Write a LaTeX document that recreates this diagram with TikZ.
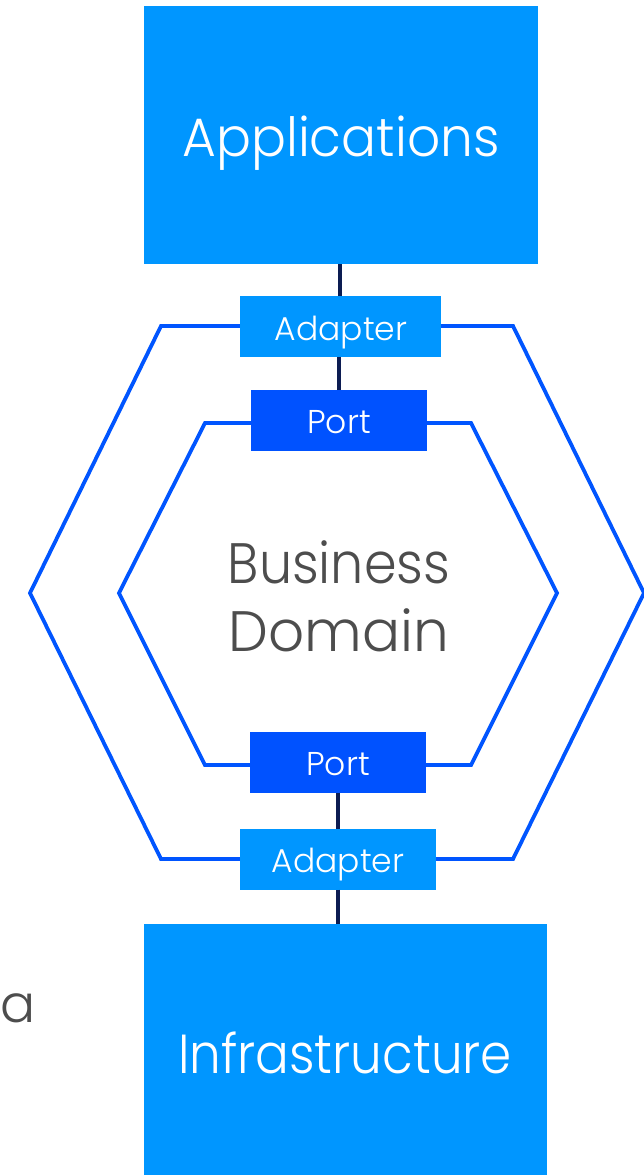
\documentclass[tikz,border=0pt]{standalone}
\usepackage{fontspec}
\setmainfont{Poppins Light}
\begin{document}
\begin{tikzpicture}[x=1pt,y=-1pt,
  every node/.style={inner sep=0pt,outer sep=0pt},
  bigbox/.style={fill=appblue,draw=none},
  adapterbox/.style={fill=appblue,draw=none,minimum width=201pt,minimum height=61pt},
  portbox/.style={fill=portblue,draw=none,minimum width=176pt,minimum height=61pt},
  hexline/.style={draw=hexblue,line width=3.8pt,line join=miter},
  link/.style={draw=navy,line width=3.6pt},
  boxtext/.style={text=white,anchor=base},
  domtext/.style={text=domgray,anchor=base}]
\definecolor{appblue}{RGB}{0,150,255}
\definecolor{portblue}{RGB}{0,82,255}
\definecolor{hexblue}{RGB}{0,85,255}
\definecolor{navy}{RGB}{12,28,82}
\definecolor{domgray}{RGB}{77,77,77}
\useasboundingbox (0,0) rectangle (644,1175);

% outer and inner hexagons
\draw[hexline] (161,326) -- (513,326) -- (644,593) -- (513,859) -- (161,859) -- (30,593) -- cycle;
\draw[hexline] (205,423) -- (471,423) -- (557,593) -- (471,765) -- (205,765) -- (119,593) -- cycle;

% outer layers
\node[bigbox,minimum width=394pt,minimum height=258pt] (app) at (341,135) {};
\node[bigbox,minimum width=403pt,minimum height=252pt] (infra) at (345.5,1050) {};

% adapters and ports
\node[adapterbox] (adtop) at (340.5,326.5) {};
\node[portbox] (porttop) at (339,420.5) {};
\node[portbox] (portbot) at (338,762) {};
\node[adapterbox,minimum width=196pt] (adbot) at (338,859) {};

% vertical connectors between the layers
\draw[link] (adtop.north -| 340,0) -- (app.south -| 340,0);
\draw[link] (porttop.north -| 339,0) -- (adtop.south -| 339,0);
\draw[link] (portbot.south) -- (adbot.north);
\draw[link] (adbot.south) -- (infra.north -| adbot.south);

% labels
\node[boxtext,font=\fontsize{54}{60}\selectfont] (applbl) at (341,156) {\scalebox{0.96}[1]{Applications}};
\node[boxtext,font=\fontsize{55}{60}\selectfont] (infralbl) at (345,1073) {\scalebox{0.91}[1]{Infrastructure}};
\node[boxtext,font=\fontsize{33}{40}\selectfont] (adtoplbl) at (341,340) {Adapter};
\node[boxtext,font=\fontsize{33}{40}\selectfont] (adbotlbl) at (338,872) {Adapter};
\node[boxtext,font=\fontsize{33}{40}\selectfont] (porttoplbl) at (339,433) {Port};
\node[boxtext,font=\fontsize{33}{40}\selectfont] (portbotlbl) at (338,775) {Port};
\node[domtext,font=\fontsize{57}{60}\selectfont] (bus) at (339,583) {\scalebox{0.92}[1]{Business}};
\node[domtext,font=\fontsize{57}{60}\selectfont] (dom) at (339,651) {\scalebox{0.99}[1]{Domain}};
\node[domtext,font=\fontsize{52}{60}\selectfont,anchor=base west] (side) at (0,1022) {a};
\end{tikzpicture}
\end{document}
